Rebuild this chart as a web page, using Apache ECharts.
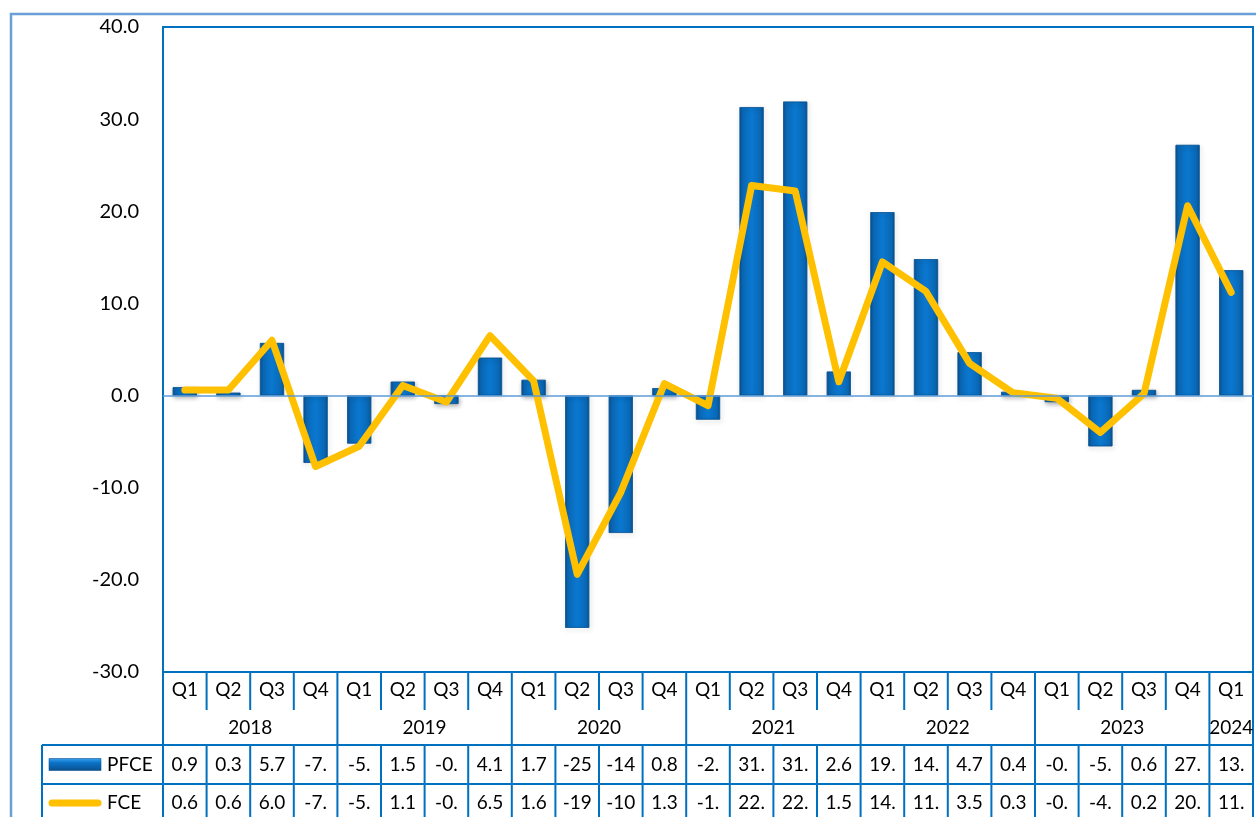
<!DOCTYPE html>
<html>
<head>
<meta charset="utf-8">
<script src="https://cdn.jsdelivr.net/npm/echarts@6/dist/echarts.min.js"></script>
<style>
  html, body { margin: 0; padding: 0; background: #ffffff; }
  #chart { width: 1256px; height: 817px; }
</style>
</head>
<body>
<div id="chart"></div>
<script>
// Quarterly growth, 2018 Q1 – 2024 Q1
const quarters = ['Q1','Q2','Q3','Q4','Q1','Q2','Q3','Q4','Q1','Q2','Q3','Q4',
                  'Q1','Q2','Q3','Q4','Q1','Q2','Q3','Q4','Q1','Q2','Q3','Q4','Q1'];
const years = ['2018','2019','2020','2021','2022','2023','2024'];
const yearSpans = [4, 4, 4, 4, 4, 4, 1];
const pfce = [0.9, 0.3, 5.7, -7.3, -5.2, 1.5, -0.9, 4.1, 1.7, -25.2, -14.9, 0.8,
              -2.6, 31.3, 31.9, 2.6, 19.9, 14.8, 4.7, 0.4, -0.7, -5.5, 0.6, 27.2, 13.6];
const fce = [0.6, 0.6, 6.0, -7.7, -5.5, 1.1, -0.7, 6.5, 1.6, -19.4, -10.5, 1.3,
             -1.1, 22.8, 22.2, 1.5, 14.5, 11.3, 3.5, 0.3, -0.3, -4.0, 0.2, 20.6, 11.2];
const seriesNames = ['PFCE', 'FCE'];
const yMin = -30, yMax = 40, yStep = 10;

const FONT = 'Lato, "Liberation Sans", sans-serif';
const BLUE = '#0070C0';
const GOLD = '#FFC000';

const chart = echarts.init(document.getElementById('chart'), null, { renderer: 'canvas' });

function barGradient() {
  return new echarts.graphic.LinearGradient(0, 0, 1, 0, [
    { offset: 0, color: '#0B4F8C' },
    { offset: 0.12, color: '#0A68B6' },
    { offset: 0.5, color: '#0A78D0' },
    { offset: 0.88, color: '#0A68B6' },
    { offset: 1, color: '#0B4F8C' }
  ]);
}

chart.setOption({
  animation: false,
  grid: { left: 163, right: 3, top: 27, bottom: 145, show: true, borderColor: BLUE, borderWidth: 2 },
  xAxis: {
    type: 'category',
    data: quarters,
    axisLine: { onZero: false, lineStyle: { color: BLUE, width: 2 } },
    axisTick: { show: false },
    axisLabel: { interval: 0, margin: 8, fontFamily: FONT, fontSize: 19, color: '#000' }
  },
  yAxis: {
    type: 'value', min: yMin, max: yMax, interval: yStep,
    axisLine: { show: false }, axisTick: { show: false }, splitLine: { show: false },
    axisLabel: { formatter: v => v.toFixed(1), margin: 24, fontFamily: FONT, fontSize: 20, color: '#000' }
  },
  series: [
    {
      type: 'bar', name: seriesNames[0], data: pfce, barWidth: 24, z: 2,
      itemStyle: {
        color: barGradient(), borderColor: '#0A5596', borderWidth: 0.6,
        shadowBlur: 5, shadowColor: 'rgba(0,0,0,0.35)', shadowOffsetX: 1, shadowOffsetY: 2
      },
      markLine: {
        silent: true, symbol: 'none', label: { show: false },
        lineStyle: { color: '#5B9BD5', width: 1.5, type: 'solid' },
        data: [{ yAxis: 0 }]
      }
    },
    {
      type: 'line', name: seriesNames[1], data: fce, symbol: 'none', z: 3,
      lineStyle: { color: GOLD, width: 7, cap: 'round', join: 'round' }
    }
  ]
});

// Data table under the plot: year row, series rows, legend keys
function buildTable() {
  const xs = quarters.map((q, i) => chart.convertToPixel({ xAxisIndex: 0 }, i));
  const step = xs[1] - xs[0];
  const edges = xs.map(x => x - step / 2).concat([xs[xs.length - 1] + step / 2]);
  const left = edges[0], right = edges[edges.length - 1];
  const yTop = chart.convertToPixel({ yAxisIndex: 0 }, yMin);
  const yQ = yTop + 38, yYear = yTop + 73, yRow2 = yYear + 39, yEnd = 817;
  const keyLeft = 42;
  const els = [];
  const line = (x1, y1, x2, y2, w, c) => els.push({
    type: 'line', silent: true, z: 10,
    shape: { x1, y1, x2, y2 }, style: { stroke: c || BLUE, lineWidth: w || 2 }
  });
  const text = (t, x, y, align, size) => els.push({
    type: 'text', silent: true, z: 11, x, y,
    style: { text: t, font: (size || 19) + 'px ' + FONT, fill: '#000',
             align: align || 'center', verticalAlign: 'middle',
             textAlign: align || 'center', textVerticalAlign: 'middle' }
  });

  // category separators in the quarter row, year boundaries through the year row
  for (let i = 1; i < edges.length - 1; i++) {
    line(edges[i], yTop, edges[i], i % 4 === 0 ? yYear : yQ);
  }
  line(left, yTop, left, yEnd);
  line(right, yTop, right, yEnd);

  // year labels
  let k = 0;
  years.forEach((yr, j) => {
    const a = edges[k], b = edges[k + yearSpans[j]];
    text(yr, (a + b) / 2, yTop + 56);
    k += yearSpans[j];
  });

  // series rows
  line(keyLeft, yYear, right, yYear);
  line(keyLeft, yRow2, right, yRow2);
  line(keyLeft, yYear, keyLeft, yEnd);
  for (let i = 1; i < edges.length - 1; i++) line(edges[i], yYear, edges[i], yEnd);

  const rows = [pfce, fce];
  const rowY = [(yYear + yRow2) / 2, yRow2 + 19];
  rows.forEach((vals, r) => {
    vals.forEach((v, i) => text(v.toFixed(1).slice(0, 3), xs[i], rowY[r]));
    text(seriesNames[r], 107, rowY[r], 'left');
  });

  // legend keys
  els.push({
    type: 'rect', silent: true, z: 11,
    shape: { x: 49, y: rowY[0] - 6, width: 52, height: 12 },
    style: { fill: new echarts.graphic.LinearGradient(0, 0, 0, 1, [
      { offset: 0, color: '#3FA3EE' }, { offset: 0.35, color: '#0A74CA' }, { offset: 1, color: '#0B4F8C' }
    ]), stroke: '#0A5596', lineWidth: 0.6 }
  });
  els.push({
    type: 'line', silent: true, z: 11,
    shape: { x1: 52, y1: rowY[1], x2: 98, y2: rowY[1] },
    style: { stroke: GOLD, lineWidth: 7, lineCap: 'round' }
  });

  // outer frame
  els.push({
    type: 'polyline', silent: true, z: 9,
    shape: { points: [[11, 817], [11, 14], [1256, 14]] },
    style: { stroke: '#6A9FD8', lineWidth: 2.5, fill: null }
  });

  chart.setOption({ graphic: { elements: els } });
}
buildTable();
</script>
</body>
</html>
